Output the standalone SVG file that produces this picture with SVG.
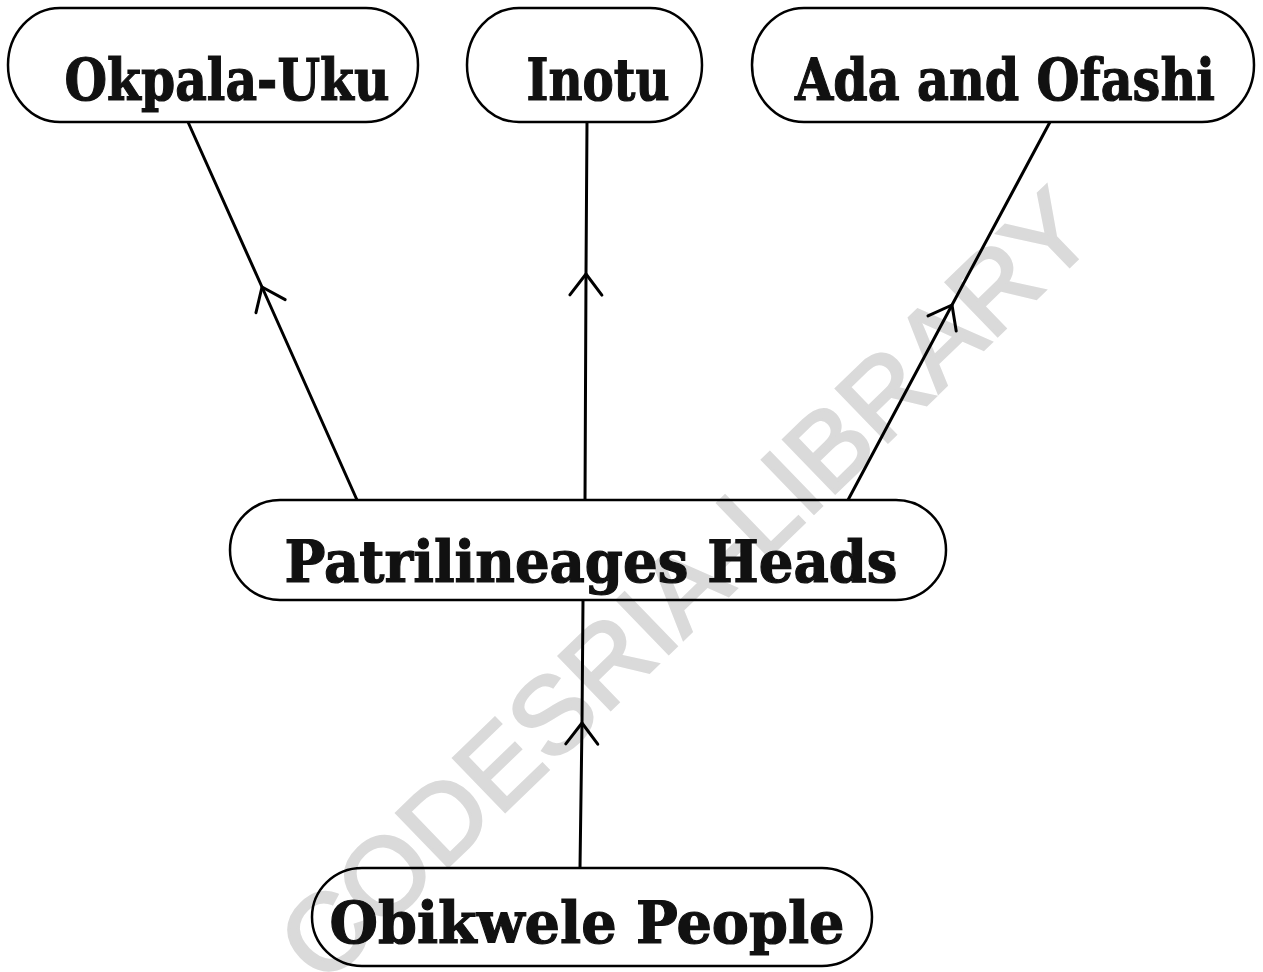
<svg xmlns="http://www.w3.org/2000/svg" width="1263" height="972" viewBox="0 0 1263 972">
  <style>
    .box { fill: none; stroke: #000; stroke-width: 2.5; }
    .label { font-family: "DejaVu Serif", "Liberation Serif", serif; font-weight: bold; font-size: 58px; fill: #111; stroke: #111; stroke-width: 1.2; }
    .link { fill: none; stroke: #000; stroke-width: 3; marker-mid: url(#chevron); }
    .mark { font-family: "Liberation Sans", Arial, sans-serif; font-size: 108px; fill: #dadada; stroke: #dadada; stroke-width: 3; }
  </style>
  <defs>
    <!-- open chevron placed halfway along each connector, pointing along travel -->
    <marker id="chevron" markerUnits="userSpaceOnUse" viewBox="-24 -20 28 40" markerWidth="28" markerHeight="40" refX="0" refY="0" orient="auto">
      <path d="M-21,-16 L0,0 L-21,16" fill="none" stroke="#000" stroke-width="3" stroke-linecap="round" stroke-linejoin="round"/>
    </marker>
  </defs>

  <rect width="1263" height="972" fill="#fff"/>

  <!-- background library stamp -->
  <text class="mark" x="685" y="585" dy="38" text-anchor="middle" textLength="1080" lengthAdjust="spacingAndGlyphs" transform="rotate(-44 685 585)">CODESRIA-LIBRARY</text>

  <g id="connectors">
    <path class="link" d="M357,500 L262,287 L188,122"/>
    <path class="link" d="M585,500 L586,274 L587,122"/>
    <path class="link" d="M848,500 L952,305 L1050,122"/>
    <path class="link" d="M580,868 L582,723 L583,600"/>
  </g>

  <g id="okpala-uku">
    <rect class="box" x="8" y="8" width="410" height="114" rx="52" ry="57"/>
    <text class="label" x="227" y="100" text-anchor="middle" textLength="325" lengthAdjust="spacingAndGlyphs">Okpala-Uku</text>
  </g>

  <g id="inotu">
    <rect class="box" x="467" y="8" width="235" height="114" rx="52" ry="57"/>
    <text class="label" x="598" y="100" text-anchor="middle" textLength="143" lengthAdjust="spacingAndGlyphs">Inotu</text>
  </g>

  <g id="ada-ofashi">
    <rect class="box" x="752" y="8" width="502" height="114" rx="52" ry="57"/>
    <text class="label" x="1005" y="100" text-anchor="middle" textLength="420" lengthAdjust="spacingAndGlyphs">Ada and Ofashi</text>
  </g>

  <g id="patrilineages-heads">
    <rect class="box" x="230" y="500" width="716" height="100" rx="50" ry="50"/>
    <text class="label" x="591" y="582" text-anchor="middle" textLength="613" lengthAdjust="spacingAndGlyphs">Patrilineages Heads</text>
  </g>

  <g id="obikwele-people">
    <rect class="box" x="312" y="868" width="560" height="98" rx="50" ry="49"/>
    <text class="label" x="587" y="943" text-anchor="middle" textLength="515" lengthAdjust="spacingAndGlyphs">Obikwele People</text>
  </g>
</svg>
